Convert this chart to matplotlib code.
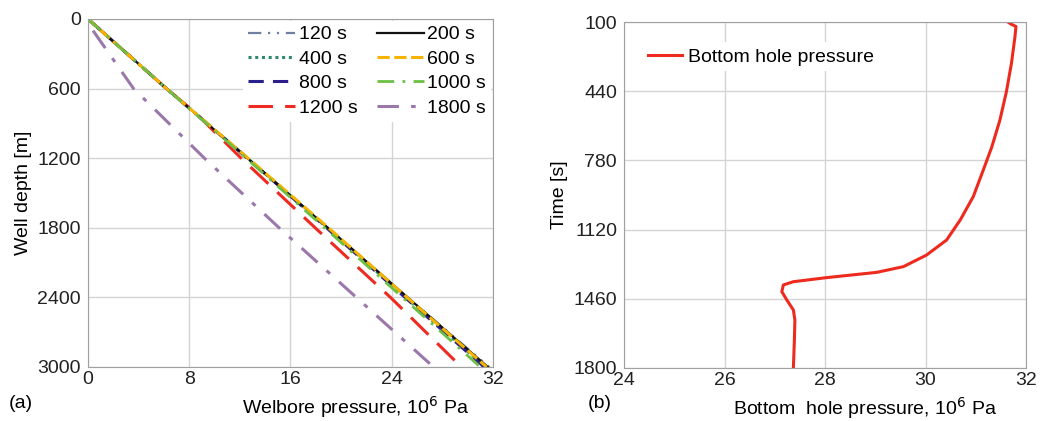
import numpy as np
import matplotlib.pyplot as plt

plt.rcParams['font.family'] = ['Liberation Sans', 'DejaVu Sans']

# (a) welbore pressure profiles, depth in m, pressure in 1e6 Pa
depth = [0, 600, 1200, 1800, 2400, 3000]
p_120 = [0.0, 6.2, 12.6, 18.95, 25.25, 31.7]
p_200 = [0.0, 6.2, 12.6, 18.95, 25.25, 31.6]
p_400 = [0.0, 6.2, 12.6, 18.9, 25.1, 31.4]
p_600 = [0.0, 6.2, 12.65, 19.0, 25.2, 31.5]
p_800 = [0.0, 6.2, 12.6, 18.85, 25.05, 31.3]
p_1000 = [0.0, 6.2, 12.5, 18.7, 24.85, 31.0]
depth_1200 = [0, 600, 800, 1200, 1800, 2400, 3000]
p_1200 = [0.0, 6.2, 8.4, 12.1, 17.95, 23.9, 29.5]
depth_1800 = [100, 600, 1200, 1800, 2400, 3000]
p_1800 = [0.4, 3.6, 9.2, 15.1, 21.2, 27.3]

# (b) bottom hole pressure vs time
t_bhp = [100, 110, 122, 172, 303, 442, 582, 713, 827, 958, 1073, 1171, 1245,
         1302, 1330, 1356, 1376, 1392, 1425, 1466, 1515, 1564, 1663, 1800]
p_bhp = [31.64, 31.70, 31.80, 31.78, 31.71, 31.61, 31.48, 31.32, 31.15, 30.95,
         30.69, 30.42, 30.02, 29.56, 29.03, 28.03, 27.37, 27.17, 27.14, 27.24,
         27.37, 27.40, 27.39, 27.37]

fig = plt.figure(figsize=(10.46, 4.21), dpi=100)
ax1 = fig.add_axes([0.0841, 0.1283, 0.3872, 0.8266])
ax2 = fig.add_axes([0.5966, 0.1259, 0.3843, 0.8218])

series = [
    (depth, p_120, '120 s', '#6f7fa0', (0, (6, 3, 1, 3, 1, 3)), 1.6),
    (depth, p_400, '400 s', '#2e8b6a', (0, (1, 1.2)), 2.2),
    (depth, p_800, '800 s', '#2a1f8c', (0, (5, 3)), 2.2),
    (depth_1200, p_1200, '1200 s', '#ee2a22', (0, (8, 4)), 2.2),
    (depth, p_200, '200 s', '#111111', '-', 1.6),
    (depth, p_600, '600 s', '#f6b400', (0, (4, 1.5)), 2.2),
    (depth, p_1000, '1000 s', '#6cbf45', (0, (6, 3, 1, 3)), 2.0),
    (depth_1800, p_1800, '1800 s', '#9a78aa', (0, (7, 4, 1.5, 4)), 2.2),
]
for d, p, lab, col, ls, lw in series:
    ax1.plot(p, d, color=col, linestyle=ls, linewidth=lw, label=lab)

ax1.set_xlim(0, 32)
ax1.set_ylim(3000, 0)
ax1.set_xticks([0, 8, 16, 24, 32])
ax1.set_yticks([0, 600, 1200, 1800, 2400, 3000])
ax1.set_xlabel('Welbore pressure, 10$^6$ Pa', fontsize=14, labelpad=4, x=0.66)
ax1.set_ylabel('Well depth [m]', fontsize=14, labelpad=4)
leg1 = ax1.legend(loc='upper right', ncol=2, fontsize=14, frameon=True,
                  handlelength=2.4, handletextpad=0.2, columnspacing=1.0,
                  labelspacing=0.35, borderpad=0.25, borderaxespad=0.1)
leg1.get_frame().set_edgecolor('none')
leg1.get_frame().set_facecolor('white')
leg1.get_frame().set_alpha(1)
fig.text(0.008, 0.03, '(a)', fontsize=14)

ax2.plot(p_bhp, t_bhp, color='#ee2a1e', linewidth=2.2, label='Bottom hole pressure')
ax2.set_xlim(24, 32)
ax2.set_ylim(1800, 100)
ax2.set_xticks([24, 26, 28, 30, 32])
ax2.set_yticks([100, 440, 780, 1120, 1460, 1800])
ax2.set_xlabel('Bottom  hole pressure, 10$^6$ Pa', fontsize=14, labelpad=4, x=0.6)
ax2.set_ylabel('Time [s]', fontsize=14, labelpad=4)
leg2 = ax2.legend(loc='upper left', fontsize=14, frameon=True, handlelength=1.75,
                  handletextpad=0.35, borderpad=0.3, bbox_to_anchor=(0.02, 0.97))
leg2.get_frame().set_edgecolor('none')
leg2.get_frame().set_facecolor('white')
leg2.get_frame().set_alpha(1)
fig.text(0.562, 0.03, '(b)', fontsize=14)

for ax in (ax1, ax2):
    ax.grid(True, color='#d4d4d4', linewidth=1.0)
    ax.set_axisbelow(True)
    for s in ax.spines.values():
        s.set_color('#a0a0a0')
    ax.tick_params(length=0, labelsize=14, colors='#222222')
    ax.tick_params(axis='x', pad=3)
    ax.tick_params(axis='y', pad=5)

fig.savefig('out.png', dpi=100)
